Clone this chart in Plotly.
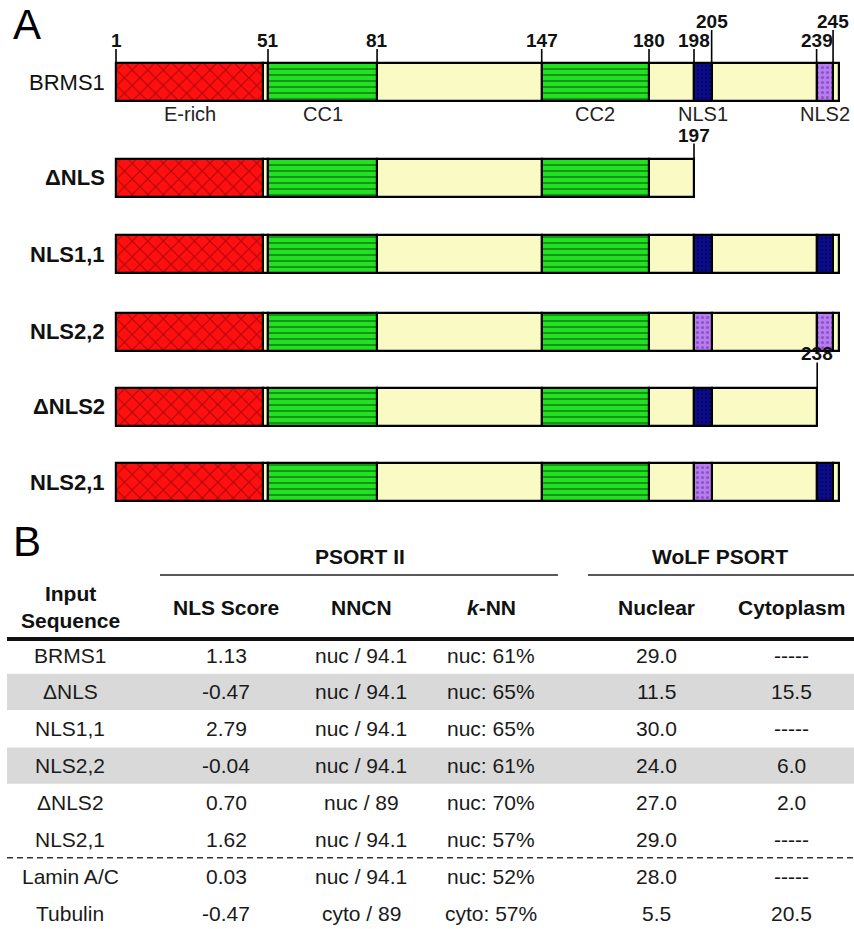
import plotly.graph_objects as go

# ---------------- Panel A data ----------------
constructs = ["BRMS1", "ΔNLS", "NLS1,1", "NLS2,2", "ΔNLS2", "NLS2,1"]

# segments as (domain kind, start residue, end residue), positions as drawn
common_segments = [("E-rich", 1, 51), ("linker", 51, 52.7), ("CC", 52.7, 89.8),
                   ("spacer", 89.8, 145.8), ("CC", 145.8, 182.3), ("spacer", 182.3, 197.6)]
brms1_tail = [("NLS1", 197.6, 203.6), ("spacer", 203.6, 239.3), ("NLS2", 239.3, 244.9), ("spacer", 244.9, 246.9)]
dnls_tail = []
nls11_tail = [("NLS1", 197.6, 203.6), ("spacer", 203.6, 239.3), ("NLS1", 239.3, 244.9), ("spacer", 244.9, 246.9)]
nls22_tail = [("NLS2", 197.6, 203.6), ("spacer", 203.6, 239.3), ("NLS2", 239.3, 244.9), ("spacer", 244.9, 246.9)]
dnls2_tail = [("NLS1", 197.6, 203.6), ("spacer", 203.6, 239.5)]
nls21_tail = [("NLS2", 197.6, 203.6), ("spacer", 203.6, 239.3), ("NLS1", 239.3, 244.9), ("spacer", 244.9, 246.9)]
construct_tails = [brms1_tail, dnls_tail, nls11_tail, nls22_tail, dnls2_tail, nls21_tail]

domain_labels = ["E-rich", "CC1", "CC2", "NLS1", "NLS2"]
domain_label_segments = [0, 2, 4, 6, 8]  # index into BRMS1 segments

tick_labels = ["1", "51", "81", "147", "180", "198", "205", "239", "245"]
tick_pos = [1, 52.7, 89.8, 145.8, 182.3, 197.6, 203.6, 239.3, 244.9]
tall_ticks = ["205", "245"]
end_labels = {"ΔNLS": ("197", 197.6), "ΔNLS2": ("238", 239.5)}

# ---------------- Panel B data ----------------
inputs = ["BRMS1", "ΔNLS", "NLS1,1", "NLS2,2", "ΔNLS2", "NLS2,1", "Lamin A/C", "Tubulin"]
nls_score = [1.13, -0.47, 2.79, -0.04, 0.70, 1.62, 0.03, -0.47]
nncn_class = ["nuc", "nuc", "nuc", "nuc", "nuc", "nuc", "nuc", "cyto"]
nncn_value = ["94.1", "94.1", "94.1", "94.1", "89", "94.1", "94.1", "89"]
knn_class = ["nuc", "nuc", "nuc", "nuc", "nuc", "nuc", "nuc", "cyto"]
knn_pct = [61, 65, 65, 61, 70, 57, 52, 57]
wolf_nuclear = [29.0, 11.5, 30.0, 24.0, 27.0, 29.0, 28.0, 5.5]
wolf_cyto = [None, 15.5, None, 6.0, 2.0, None, None, 20.5]
shaded_rows = ["ΔNLS", "NLS2,2"]
col_headers = ["<b>Input<br>Sequence</b>", "<b>NLS Score</b>", "<b>NNCN</b>",
               "<b><i>k</i>-NN</b>", "<b>Nuclear</b>", "<b>Cytoplasm</b>"]

# ---------------- layout helpers ----------------
W, H = 854, 929
FONT = "Liberation Sans, Arial, Helvetica, sans-serif"
K = 2.94          # px per residue
X0 = 116          # px of residue 1
row_center_px = [82, 177.5, 254, 331.5, 406.5, 482]
bar_thick = 38
col_x = [70, 226, 361, 491, 656, 791]
ROW0, ROWH = 655, 36.86


def px(x):
    return x / W


def py(y):
    return 1 - y / H


def ty(y):
    return (y - ROW0) / ROWH


styles = {
    "E-rich": dict(color="#ff1010", pattern=dict(shape="x", fgcolor="#5a0000", size=11, solidity=0.2, fillmode="overlay")),
    "linker": dict(color="#fafbc4"),
    "CC": dict(color="#22e022", pattern=dict(shape="-", fgcolor="#042a04", size=6, solidity=0.28, fillmode="overlay")),
    "spacer": dict(color="#fafbc4"),
    "NLS1": dict(color="#0c0c8c", pattern=dict(shape=".", fgcolor="#000040", size=4, solidity=0.3, fillmode="overlay")),
    "NLS2": dict(color="#b87cf0", pattern=dict(shape=".", fgcolor="#5a2d99", size=5, solidity=0.3, fillmode="overlay")),
}

fig = go.Figure()

per_kind = {}
all_segments = []
for name, tail, yc in zip(constructs, construct_tails, row_center_px):
    segs = common_segments + tail
    all_segments.append(segs)
    for kind, s, e in segs:
        per_kind.setdefault(kind, []).append((yc, s, e))

for kind in ["spacer", "linker", "E-rich", "CC", "NLS1", "NLS2"]:
    items = per_kind.get(kind, [])
    if not items:
        continue
    st = styles[kind]
    marker = dict(color=st["color"], line=dict(color="black", width=2.2))
    if "pattern" in st:
        marker["pattern"] = st["pattern"]
    fig.add_trace(go.Bar(
        orientation="h",
        y=[it[0] for it in items],
        base=[it[1] for it in items],
        x=[it[2] - it[1] for it in items],
        width=bar_thick,
        marker=marker,
        showlegend=False,
        hoverinfo="skip",
        xaxis="x", yaxis="y",
    ))

annotations = []
shapes = []


def ann(text, x, y, xref, yref, size, bold=False, color="#111", xanchor="center"):
    annotations.append(dict(text=f"<b>{text}</b>" if bold else text, x=x, y=y, xref=xref, yref=yref,
                            xanchor=xanchor, yanchor="middle", showarrow=False,
                            font=dict(size=size, family=FONT, color=color)))


# panel letters
ann("A", px(27), py(24), "paper", "paper", 42, color="black")
ann("B", px(27), py(541), "paper", "paper", 42, color="black")

# row labels
for i, (name, yc) in enumerate(zip(constructs, row_center_px)):
    ann(name, px(107), yc, "paper", "y", 22, bold=(i > 0), xanchor="right")

# residue ticks on BRMS1
bar_top = row_center_px[0] - bar_thick / 2
for lab, pos in zip(tick_labels, tick_pos):
    tall = lab in tall_ticks
    y_tip = 30 if tall else 49
    y_lab = 21 if tall else 40
    shapes.append(dict(type="line", xref="x", yref="y", x0=pos, x1=pos, y0=y_tip, y1=bar_top,
                       line=dict(color="black", width=1.6)))
    ann(lab, pos, y_lab, "x", "y", 19, bold=True)

# end labels for truncated constructs
for name, (lab, pos) in end_labels.items():
    idx = constructs.index(name)
    top = row_center_px[idx] - bar_thick / 2
    short = name == "ΔNLS"
    shapes.append(dict(type="line", xref="x", yref="y", x0=pos, x1=pos, y0=top - (15 if short else 25),
                       y1=top, line=dict(color="black", width=1.6)))
    ann(lab, pos, top - (23 if short else 34), "x", "y", 19, bold=True)

# domain labels under BRMS1
for lab, si in zip(domain_labels, domain_label_segments):
    kind, s, e = all_segments[0][si]
    ann(lab, (s + e) / 2, 114, "x", "y", 20, color="#222")

# ---------------- Panel B ----------------
for i, name in enumerate(inputs):
    if name in shaded_rows:
        shapes.append(dict(type="rect", xref="x2", yref="y2", x0=7, x1=854, y0=i - 0.49, y1=i + 0.49,
                           fillcolor="#d9d9d9", line=dict(width=0), layer="below"))

ann("PSORT II", 360, ty(556), "x2", "y2", 21, bold=True)
ann("WoLF PSORT", 720, ty(556), "x2", "y2", 21, bold=True)
shapes.append(dict(type="line", xref="x2", yref="y2", x0=160, x1=558, y0=ty(575), y1=ty(575),
                   line=dict(color="#222", width=1.6)))
shapes.append(dict(type="line", xref="x2", yref="y2", x0=588, x1=854, y0=ty(575), y1=ty(575),
                   line=dict(color="#222", width=1.6)))
for j, hdr in enumerate(col_headers):
    ann(hdr, col_x[j], ty(607), "x2", "y2", 21)
shapes.append(dict(type="line", xref="x2", yref="y2", x0=7, x1=854, y0=ty(639), y1=ty(639),
                   line=dict(color="#111", width=4)))

for i in range(len(inputs)):
    cyto = "-----" if wolf_cyto[i] is None else f"{wolf_cyto[i]:.1f}"
    cells = [inputs[i], f"{nls_score[i]:.2f}", f"{nncn_class[i]} / {nncn_value[i]}",
             f"{knn_class[i]}: {knn_pct[i]}%", f"{wolf_nuclear[i]:.1f}", cyto]
    for j, c in enumerate(cells):
        ann(c, col_x[j], i, "x2", "y2", 21, color="#1a1a1a")

shapes.append(dict(type="line", xref="x2", yref="y2", x0=7, x1=854, y0=5.5, y1=5.5,
                   line=dict(color="#333", width=1.6, dash="6px,4px")))

fig.update_layout(
    width=W, height=H,
    margin=dict(l=0, r=0, t=0, b=0),
    paper_bgcolor="white", plot_bgcolor="rgba(0,0,0,0)",
    barmode="overlay", bargap=0,
    xaxis=dict(range=[1 - X0 / K, 1 + (W - X0) / K], domain=[0, 1], visible=False, fixedrange=True),
    yaxis=dict(range=[H, 0], domain=[0, 1], visible=False, fixedrange=True),
    xaxis2=dict(range=[0, W], domain=[0, 1], visible=False, anchor="y2", fixedrange=True),
    yaxis2=dict(range=[(H - ROW0) / ROWH, (0 - ROW0) / ROWH], domain=[0, 1], visible=False, anchor="x2",
                fixedrange=True),
    annotations=annotations,
    shapes=shapes,
    font=dict(family=FONT),
)

fig.write_html("out.html", config={"displayModeBar": False},
               post_script="document.body.style.margin='0';document.body.style.padding='0';")
